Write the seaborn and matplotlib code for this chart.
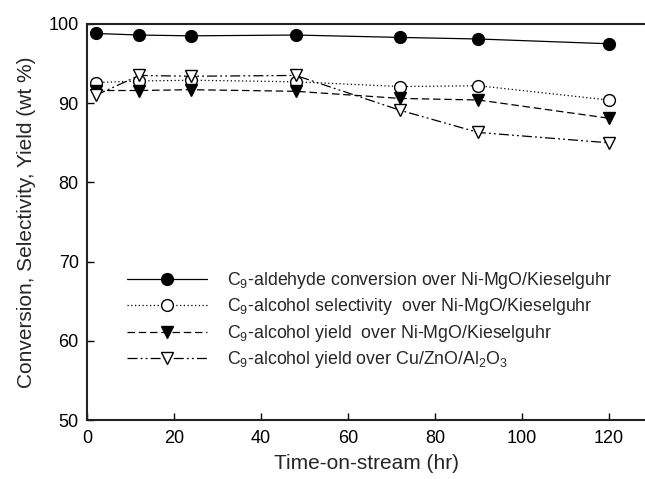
import matplotlib
matplotlib.use("Agg")

import matplotlib.pyplot as plt
import pandas as pd
import seaborn as sns

# Datos
tiempo = [2, 12, 24, 48, 72, 90, 120]
conversion_ni = [98.8, 98.6, 98.5, 98.6, 98.3, 98.1, 97.5]
selectividad_ni = [92.6, 92.8, 92.9, 92.7, 92.1, 92.2, 90.4]
rendimiento_ni = [91.6, 91.6, 91.7, 91.5, 90.6, 90.4, 88.1]
rendimiento_cu = [91.0, 93.5, 93.4, 93.5, 89.1, 86.3, 85.0]

etiquetas = [
    "C$_9$-aldehyde conversion over Ni-MgO/Kieselguhr",
    "C$_9$-alcohol selectivity  over Ni-MgO/Kieselguhr",
    "C$_9$-alcohol yield  over Ni-MgO/Kieselguhr",
    "C$_9$-alcohol yield over Cu/ZnO/Al$_2$O$_3$",
]

sns.set_theme(style="ticks")
plt.rcParams["font.family"] = ["Liberation Sans", "DejaVu Sans"]
plt.rcParams["mathtext.default"] = "regular"

fig, ax = plt.subplots(figsize=(6.45, 4.79), dpi=100)
fig.subplots_adjust(left=0.135, right=1.0, bottom=0.123, top=0.950)

# (valores, marcador, relleno, estilo de linea)
series = [
    (conversion_ni, "o", "black", "-"),
    (selectividad_ni, "o", "white", (0, (1, 2))),
    (rendimiento_ni, "v", "black", (0, (6, 3))),
    (rendimiento_cu, "v", "white", (0, (8, 2.5, 1.5, 2.5, 1.5, 2.5))),
]

for (valores, marcador, relleno, estilo), etiqueta in zip(series, etiquetas):
    df = pd.DataFrame({"t": tiempo, "v": valores})
    sns.lineplot(
        data=df, x="t", y="v", ax=ax,
        color="black", linewidth=0.9, linestyle=estilo,
        marker=marcador, markersize=8.5, markerfacecolor=relleno,
        markeredgecolor="black", markeredgewidth=1.0,
        label=etiqueta,
    )

ax.set_xlim(0, 128.3)
ax.set_ylim(50, 100)
ax.set_xticks([0, 20, 40, 60, 80, 100, 120])
ax.set_yticks([50, 60, 70, 80, 90, 100])
ax.tick_params(direction="in", labelsize=13, length=5, width=1, colors="black")
ax.tick_params(axis="x", pad=7)
ax.tick_params(axis="y", pad=6)
for lado in ax.spines.values():
    lado.set_color("#222222")
    lado.set_linewidth(1.5)
ax.spines["right"].set_visible(False)  # el original esta recortado a la derecha

ax.set_xlabel("Time-on-stream (hr)", fontsize=15, labelpad=5)
ax.set_ylabel("Conversion, Selectivity, Yield (wt %)", fontsize=15, labelpad=9)

ax.legend(
    loc="center left", bbox_to_anchor=(0.072, 0.2525), frameon=False,
    fontsize=12.8, handlelength=4.5, handletextpad=1.1, labelspacing=0.3,
    borderaxespad=0, borderpad=0,
)

fig.savefig("out.png", dpi=100)
plt.close(fig)
